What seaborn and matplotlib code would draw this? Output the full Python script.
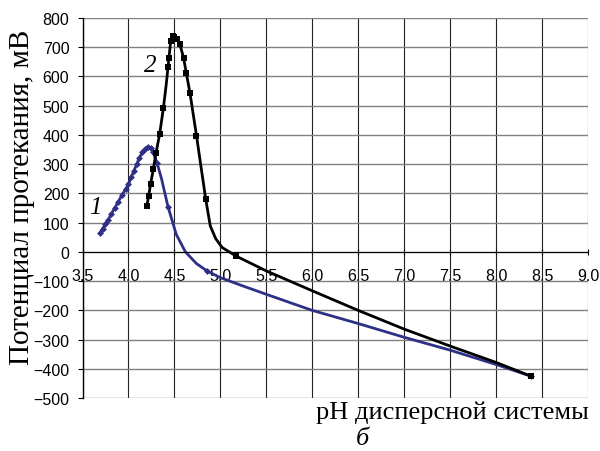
import numpy as np
import pandas as pd
import matplotlib
matplotlib.use('Agg')
import matplotlib.pyplot as plt
import seaborn as sns

sns.set_style('white')
plt.rcParams['font.family'] = ['Liberation Sans', 'DejaVu Sans']
plt.rcParams['text.color'] = 'black'
plt.rcParams['xtick.color'] = 'black'
plt.rcParams['ytick.color'] = 'black'

# curve 1 (blue): traced line
ph1 = [3.69, 3.72, 3.75, 3.78, 3.81, 3.85, 3.89, 3.93, 3.97, 4.00, 4.03, 4.06,
       4.09, 4.12, 4.15, 4.18, 4.21, 4.24, 4.27, 4.31, 4.36, 4.43, 4.52, 4.62,
       4.74, 4.86, 5.00, 5.25, 5.50, 6.00, 6.50, 7.00, 7.50, 8.00, 8.38]
mv1 = [65, 80, 95, 110, 128, 150, 172, 195, 215, 232, 255, 278,
       300, 322, 340, 352, 360, 355, 340, 305, 250, 155, 60, 0,
       -40, -66, -88, -117, -145, -200, -245, -292, -336, -385, -425]
marks1 = [0, 1, 2, 3, 4, 5, 6, 7, 8, 9, 10, 11, 12, 13, 14, 15, 16, 17, 18, 19, 21, 25, 34]

# curve 2 (black): traced line
ph2 = [4.20, 4.22, 4.24, 4.27, 4.30, 4.34, 4.38, 4.41, 4.43, 4.44, 4.46, 4.48,
       4.50, 4.53, 4.56, 4.60, 4.63, 4.67, 4.74, 4.84, 4.89, 4.95, 5.02, 5.17,
       5.50, 6.00, 6.50, 7.00, 7.50, 8.00, 8.38]
mv2 = [157, 191, 231, 282, 339, 404, 492, 570, 631, 663, 721, 738,
       735, 727, 710, 663, 611, 542, 398, 182, 89, 45, 15, -14,
       -65, -133, -200, -264, -322, -378, -425]
marks2 = [0, 1, 2, 3, 4, 5, 6, 8, 9, 10, 11, 12, 13, 14, 15, 16, 17, 18, 19, 23, 30]

xticks = np.arange(3.5, 9.01, 0.5)
xlabels = [f'{v:.1f}' for v in xticks]
yticks = np.arange(-500, 801, 100)

d1 = pd.DataFrame({'ph': ph1, 'mv': mv1})
d2 = pd.DataFrame({'ph': ph2, 'mv': mv2})

fig = plt.figure(figsize=(6, 4.52), dpi=100)
ax = fig.add_axes([0.1375, 0.117, 0.8425, 0.841])

sns.lineplot(data=d1, x='ph', y='mv', sort=False, estimator=None, ax=ax,
             color='#2E3086', linewidth=2.0, marker='D', markersize=3.5,
             markeredgewidth=0, markevery=marks1)
sns.lineplot(data=d2, x='ph', y='mv', sort=False, estimator=None, ax=ax,
             color='black', linewidth=2.0, marker='s', markersize=4.5,
             markeredgewidth=0, markevery=marks2)

ax.set_xlim(3.5, 9.0)
ax.set_ylim(-500, 800)
ax.set_xticks(xticks)
ax.set_xticklabels(xlabels)
ax.set_yticks(yticks)
ax.set_xlabel('')
ax.set_ylabel('')

ax.grid(axis='x', color='#222222', linewidth=0.8)
ax.grid(axis='y', color='#808080', linewidth=1.0)
ax.set_axisbelow(True)

for s in ['top', 'right']:
    ax.spines[s].set_visible(False)
ax.spines['bottom'].set_position(('data', 0))
ax.spines['bottom'].set_color('black')
ax.spines['left'].set_color('black')
ax.spines['left'].set_linewidth(1.0)

ax.tick_params(axis='y', direction='out', length=3.5, labelsize=11.5, pad=6, left=True)
ax.tick_params(axis='x', direction='inout', length=5, labelsize=11.5, pad=9, bottom=True)

serif = ['Liberation Serif', 'DejaVu Serif']
ax.text(3.64, 152, '1', family=serif, style='italic', fontsize=18, ha='center', va='center')
ax.text(4.24, 640, '2', family=serif, style='italic', fontsize=18, ha='center', va='center')

fig.text(22 / 600, 1 - 197 / 452, 'Потенциал протекания, мВ', family=serif,
         fontsize=21, rotation=90, ha='center', va='center')
fig.text(452 / 600, 1 - 413 / 452, 'pH дисперсной системы', family=serif,
         fontsize=19, ha='center', va='center')
fig.text(362 / 600, 1 - 428 / 452, 'б', family=serif, style='italic',
         fontsize=19, ha='center', va='top')

fig.savefig('out.png', dpi=100)
